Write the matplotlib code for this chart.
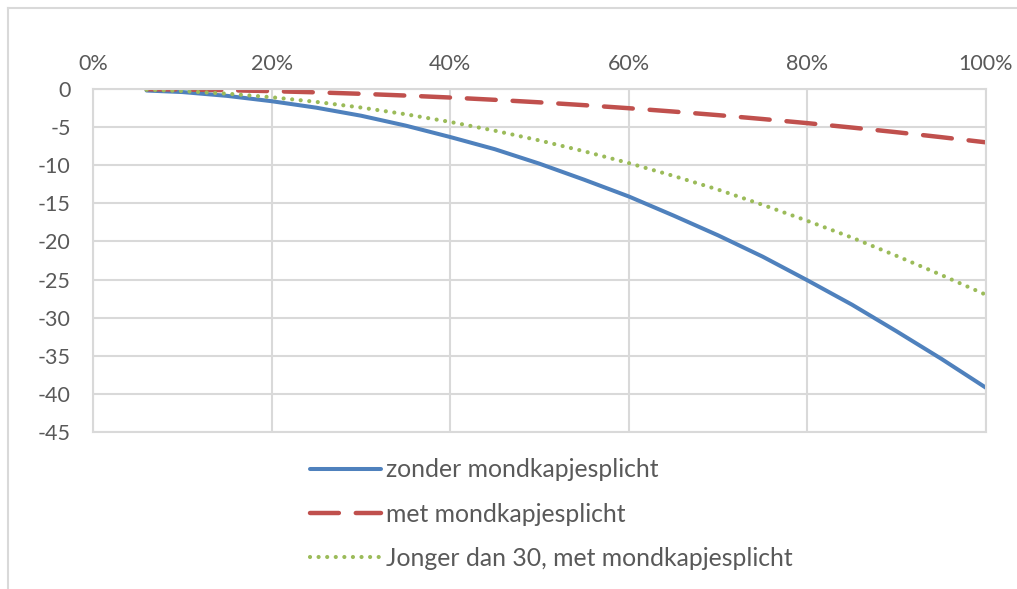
import matplotlib
matplotlib.use("Agg")
import matplotlib.pyplot as plt
from matplotlib.lines import Line2D
from matplotlib.ticker import PercentFormatter

# Share of the population (fraction) and effect per scenario
share = [0.06, 0.10, 0.15, 0.20, 0.25, 0.30, 0.35, 0.40, 0.45, 0.50,
         0.55, 0.60, 0.65, 0.70, 0.75, 0.80, 0.85, 0.90, 0.95, 1.00]
zonder = [-0.2, -0.4, -0.9, -1.6, -2.45, -3.5, -4.8, -6.3, -7.9, -9.8,
          -11.9, -14.1, -16.6, -19.2, -22.0, -25.1, -28.3, -31.8, -35.4, -39.2]
met = [-0.03, -0.07, -0.16, -0.28, -0.44, -0.63, -0.86, -1.12, -1.42, -1.75,
       -2.12, -2.52, -2.96, -3.43, -3.94, -4.48, -5.06, -5.67, -6.32, -7.0]
jonger = [-0.1, -0.27, -0.61, -1.08, -1.69, -2.43, -3.31, -4.32, -5.47, -6.75,
          -8.17, -9.72, -11.4, -13.2, -15.2, -17.3, -19.5, -21.9, -24.4, -27.0]

labels = ["zonder mondkapjesplicht", "met mondkapjesplicht",
          "Jonger dan 30, met mondkapjesplicht"]
x_ticks = [0, 0.2, 0.4, 0.6, 0.8, 1.0]
y_ticks = [0, -5, -10, -15, -20, -25, -30, -35, -40, -45]

plt.rcParams["font.family"] = ["Lato", "DejaVu Sans"]
plt.rcParams["axes.unicode_minus"] = False
text_color = "#595959"
grid_color = "#d9d9d9"

W, H = 1017, 589
fig = plt.figure(figsize=(W / 100, H / 100), dpi=100)
ax = fig.add_axes([93 / W, 1 - 432 / H, (986 - 93) / W, (432 - 89) / H])

l1, = ax.plot(share, zonder, color="#4f81bd", lw=2.9, solid_capstyle="round")
l2, = ax.plot(share, met, color="#c0504d", lw=3.2, dashes=(6.5, 3.8),
              dash_capstyle="round")
l3, = ax.plot(share, jonger, color="#9bbb59", lw=3.0, dashes=(0.01, 2.05),
              dash_capstyle="round")

ax.set_xlim(0, 1)
ax.set_ylim(-45, 0)
ax.set_xticks(x_ticks)
ax.set_yticks(y_ticks)
ax.xaxis.set_major_formatter(PercentFormatter(1.0, decimals=0))
ax.xaxis.tick_top()
ax.tick_params(axis="both", length=0, labelsize=15.5, colors=text_color)
ax.tick_params(axis="x", pad=11)
ax.tick_params(axis="y", pad=16)
ax.grid(True, color=grid_color, lw=1.5)
ax.set_axisbelow(True)
for s in ax.spines.values():
    s.set_color(grid_color)
    s.set_linewidth(1.5)

leg = fig.legend([l1, l2, l3], labels, loc="upper left",
                 bbox_to_anchor=(293 / W, 1 - 441 / H), frameon=False,
                 fontsize=17.8, labelcolor=text_color, handlelength=2.85,
                 handletextpad=0.2, labelspacing=0.86, borderpad=0.2)

# Outer chart frame (top and left edges)
fig.add_artist(Line2D([8 / W, 1], [1 - 8 / H, 1 - 8 / H], color=grid_color,
                      lw=1.5, transform=fig.transFigure))
fig.add_artist(Line2D([8 / W, 8 / W], [0, 1 - 8 / H], color=grid_color,
                      lw=1.5, transform=fig.transFigure))

fig.savefig("out.png", dpi=100)
